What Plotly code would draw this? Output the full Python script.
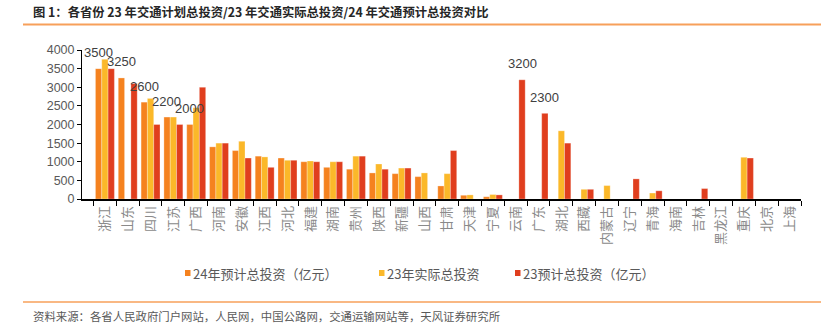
import plotly.graph_objects as go

provinces = ["浙江", "山东", "四川", "江苏", "广西", "河南", "安徽", "江西", "河北", "福建",
             "湖南", "贵州", "陕西", "新疆", "山西", "甘肃", "天津", "宁夏", "云南", "广东",
             "湖北", "西藏", "内蒙古", "辽宁", "青海", "海南", "吉林", "黑龙江", "重庆", "北京", "上海"]

plan24 = [3500, 3250, 2600, 2200, 2000, 1400, 1300, 1150, 1100, 1000,
          850, 800, 700, 680, 600, 350, 100, 60, None, None,
          None, None, None, None, None, None, None, None, None, None, None]
actual23 = [3750, None, 2700, 2200, 2450, 1500, 1550, 1130, 1040, 1020,
            1000, 1150, 940, 830, 700, 680, 110, 120, None, None,
            1830, 260, 360, None, 160, None, None, None, 1120, None, None]
plan23 = [3500, 3100, 2000, 2000, 3000, 1500, 1100, 850, 1040, 1000,
          1000, 1150, 800, 830, None, 1300, None, 110, 3200, 2300,
          1500, 260, None, 540, 220, None, 280, None, 1100, None, None]

labels_plan24 = ["3500", "3250", "2600", "2200", "2000"] + [""] * 26
labels_plan23 = [""] * 18 + ["3200", "2300"] + [""] * 11

names = ["24年预计总投资（亿元）", "23年实际总投资", "23预计总投资（亿元）"]
colors = ["#F5821F", "#FBB829", "#E03E1E"]

# plot area in pixels
L, R, T, B = 82, 20, 50, 125
W, H = 821, 324
pw, ph = W - L - R, H - T - B


def px_x(px):
    return (px - L) / pw


def px_y(py):
    return (H - B - py) / ph


fig = go.Figure()
for vals, name, col in zip([plan24, actual23, plan23], names, colors):
    fig.add_trace(go.Bar(x=provinces, y=vals, name=name, marker_color=col, showlegend=False,
                         marker_line=dict(width=0.4, color="rgba(255,255,255,0.7)")))

bargap = 0.17
cat_w = pw / len(provinces)
bar_off = cat_w * (1 - bargap) / 3

annotations = []
for series_vals, series_labels, shift in [(plan24, labels_plan24, -bar_off), (plan23, labels_plan23, bar_off)]:
    for cat, v, lab in zip(provinces, series_vals, series_labels):
        if lab:
            annotations.append(dict(x=cat, y=v, xref="x", yref="y", text=lab, showarrow=False,
                                    xshift=shift, yshift=16, yanchor="middle",
                                    font=dict(family="Arial, Liberation Sans", size=13, color="#404040")))

annotations.append(dict(x=px_x(31), y=px_y(12), xref="paper", yref="paper", xanchor="left", yanchor="middle",
                        text="<b>图 1：各省份 23 年交通计划总投资/23 年交通实际总投资/24 年交通预计总投资对比</b>",
                        showarrow=False, font=dict(family="Noto Sans CJK SC", size=12.3, color="#262626")))
annotations.append(dict(x=px_x(31), y=px_y(316), xref="paper", yref="paper", xanchor="left", yanchor="middle",
                        text="资料来源：各省人民政府门户网站，人民网，中国公路网，交通运输网站等，天风证券研究所",
                        showarrow=False, font=dict(family="Noto Sans CJK SC", size=11.4, color="#595959")))

shapes = [
    dict(type="line", xref="paper", yref="paper", x0=px_x(23), x1=px_x(821), y0=px_y(24.5), y1=px_y(24.5),
         line=dict(color="#F7A05A", width=2)),
    dict(type="line", xref="paper", yref="paper", x0=px_x(23), x1=px_x(821), y0=px_y(302), y1=px_y(302),
         line=dict(color="#F7A05A", width=1.5)),
]

# legend (small squares + text, as in the reference)
legend_x = [185, 379, 515]
legend_y = 273
for lx, name, col in zip(legend_x, names, colors):
    shapes.append(dict(type="rect", xref="paper", yref="paper",
                       x0=px_x(lx), x1=px_x(lx + 5.5), y0=px_y(legend_y + 3), y1=px_y(legend_y - 3),
                       fillcolor=col, line=dict(width=0)))
    annotations.append(dict(x=px_x(lx + 5.5), y=px_y(legend_y), xref="paper", yref="paper",
                            xanchor="left", yanchor="middle", text=name, showarrow=False,
                            font=dict(family="Noto Sans CJK SC", size=13, color="#595959")))

fig.update_layout(
    width=W, height=H,
    margin=dict(l=L, r=R, t=T, b=B),
    paper_bgcolor="white", plot_bgcolor="white",
    barmode="group", bargap=bargap, bargroupgap=0,
    annotations=annotations, shapes=shapes,
    showlegend=False,
)
fig.update_xaxes(
    type="category", tickangle=-90, showline=True, linecolor="black", linewidth=1.5,
    ticks="outside", tickson="boundaries", ticklen=5, tickcolor="black", tickwidth=1,
    tickfont=dict(family="Noto Sans CJK SC", size=13, color="#8a8a8a"), showgrid=False,
)
fig.update_yaxes(
    range=[0, 4000], dtick=500, showline=True, linecolor="black", linewidth=1,
    ticks="outside", ticklen=4, tickcolor="black", showgrid=False, zeroline=False,
    tickfont=dict(family="Arial, Liberation Sans", size=12.5, color="#595959"),
)
fig.update_traces(cliponaxis=False)

fig.write_html("out.html")
